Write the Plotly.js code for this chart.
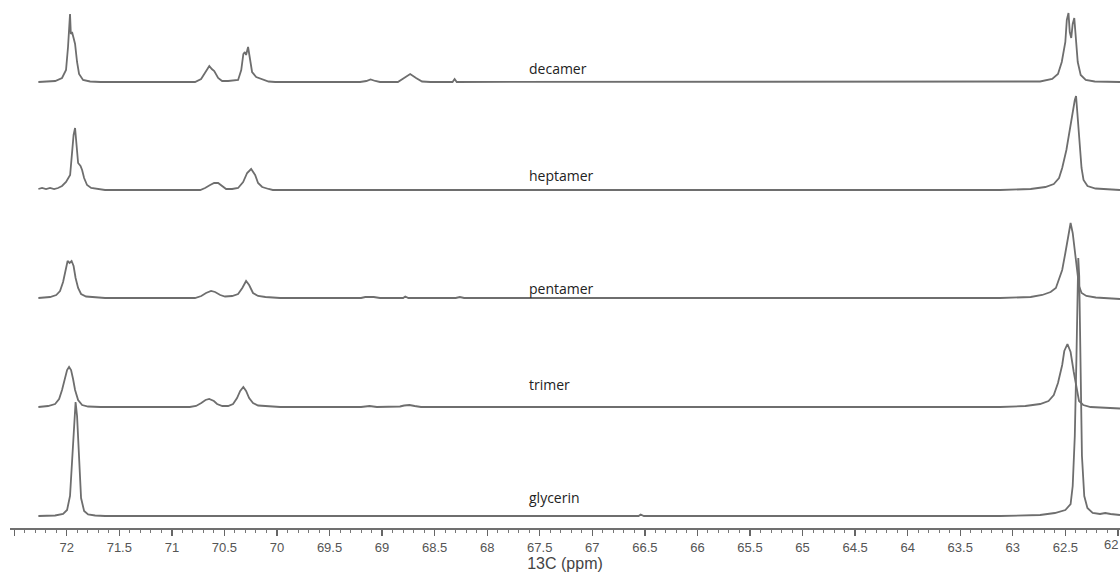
<!DOCTYPE html>
<html>
<head>
<meta charset="utf-8">
<script src="https://cdn.plot.ly/plotly-3.0.1.min.js"></script>
<style>
  html, body { margin: 0; padding: 0; background: #ffffff; }
  #chart { width: 1120px; height: 577px; }
</style>
</head>
<body>
<div id="chart"></div>
<script>
// ---------------- DATA ----------------
// Sample names, top to bottom
const sampleNames = ["decamer", "heptamer", "pentamer", "trimer", "glycerin"];

// Chemical shift (ppm) and intensity (arbitrary units) for each spectrum
const decamerPpm = [72.27, 72.11, 72.045, 72.007, 71.988, 71.973, 71.969, 71.961, 71.95, 71.935, 71.921, 71.902, 71.883, 71.845, 71.778, 71.68,
  70.78, 70.722, 70.68, 70.644, 70.62, 70.597, 70.56, 70.522, 70.465, 70.37, 70.34, 70.32, 70.306, 70.294, 70.275, 70.256, 70.237, 70.198, 70.141, 70.08, 70.017,
  69.21, 69.15, 69.11, 69.065, 69.02, 68.85, 68.79, 68.733, 68.677, 68.62, 68.54, 68.33, 68.31, 68.29,
  62.74, 62.625, 62.57, 62.534, 62.5, 62.486, 62.47, 62.458, 62.444, 62.43, 62.415, 62.40, 62.382, 62.354, 62.306, 62.22, 61.98];
const decamerInt = [0, 1, 4, 12, 35, 60, 68, 48, 50, 44, 38, 20, 8, 2, 0.5, 0,
  0, 3, 10, 16, 13, 11, 4, 1, 1, 2, 12, 28, 30, 27, 35, 22, 10, 5, 3, 0.5, 0,
  0, 1, 2.5, 1, 0, 0, 4, 8, 4, 0.5, 0, 0, 3, 0,
  0.5, 3, 8, 20, 40, 62, 69, 50, 44, 58, 64, 45, 20, 7, 2, 0.5, 0];

const heptamerPpm = [72.27, 72.235, 72.197, 72.159, 72.12, 72.083, 72.045, 72.007, 71.968, 71.949, 71.935, 71.921, 71.907, 71.892, 71.869, 71.854, 71.835, 71.807, 71.768, 71.683, 71.636,
  70.73, 70.684, 70.636, 70.598, 70.56, 70.522, 70.484, 70.427, 70.37, 70.322, 70.284, 70.246, 70.208, 70.18, 70.141, 70.08, 70.04,
  63.12, 62.83, 62.69, 62.61, 62.56, 62.53, 62.49, 62.46, 62.43, 62.41, 62.398, 62.384, 62.365, 62.346, 62.327, 62.289, 62.213, 62.07, 61.98];
const heptamerInt = [1, 2, 1, 2, 1, 2, 4, 8, 15, 35, 55, 62, 40, 27, 24, 20, 12, 5, 2, 0.5, 0,
  0, 2, 5, 7, 7, 4, 1, 1, 2, 8, 17, 21, 15, 7, 3, 1, 0,
  0, 1, 3, 6, 12, 22, 40, 60, 80, 90, 94, 75, 45, 22, 10, 4, 1.5, 0.5, 0];

const pentamerPpm = [72.27, 72.159, 72.1, 72.064, 72.035, 72.011, 71.992, 71.973, 71.954, 71.935, 71.916, 71.892, 71.864, 71.816, 71.73, 71.636,
  70.78, 70.72, 70.675, 70.627, 70.589, 70.54, 70.494, 70.427, 70.37, 70.33, 70.294, 70.265, 70.228, 70.18, 70.11, 69.97,
  69.2, 69.16, 69.08, 69.02, 68.8, 68.78, 68.75, 68.3, 68.26, 68.22,
  63.12, 62.83, 62.72, 62.64, 62.59, 62.56, 62.53, 62.5, 62.47, 62.45, 62.43, 62.41, 62.39, 62.37, 62.345, 62.3, 62.21, 61.98];
const pentamerInt = [0, 1, 3, 7, 16, 30, 37, 35, 37, 32, 20, 10, 4, 1.5, 0.5, 0,
  0, 2, 5, 7, 6, 3, 1.5, 2, 4, 10, 17, 13, 5, 2, 1, 0,
  0, 1, 1, 0, 0, 1.5, 0, 0, 1, 0,
  0, 1, 3, 6, 10, 18, 28, 45, 65, 75, 65, 45, 25, 12, 5, 2, 0.5, -1];

const trimerPpm = [72.27, 72.178, 72.111, 72.073, 72.045, 72.016, 71.997, 71.978, 71.959, 71.94, 71.921, 71.892, 71.854, 71.797, 71.68,
  70.83, 70.77, 70.72, 70.68, 70.645, 70.6, 70.57, 70.52, 70.465, 70.418, 70.38, 70.35, 70.32, 70.294, 70.265, 70.228, 70.18, 70.08, 69.97,
  69.2, 69.12, 69.05, 68.83, 68.79, 68.74, 68.69, 68.63,
  63.12, 62.88, 62.74, 62.66, 62.61, 62.57, 62.53, 62.51, 62.48, 62.45, 62.42, 62.39, 62.37, 62.33, 62.26, 61.98];
const trimerInt = [0, 1, 3, 8, 17, 30, 37, 40, 37, 28, 17, 7, 2, 0.5, 0,
  0, 1, 4, 7, 8, 6, 3, 1, 1, 3, 9, 16, 20, 16, 9, 4, 1.5, 0.5, 0,
  0, 1, 0, 0.5, 1.5, 2, 1, 0,
  0, 1, 3, 6, 12, 24, 42, 56, 63, 55, 35, 15, 6, 2, 0, -1.5];

const glycerinPpm = [72.27, 72.111, 72.035, 71.997, 71.969, 71.95, 71.93, 71.916, 71.902, 71.883, 71.864, 71.835, 71.797, 71.73, 71.636,
  66.56, 66.54, 66.51,
  63.12, 62.74, 62.6, 62.5, 62.45, 62.43, 62.41, 62.394, 62.385, 62.377, 62.368, 62.356, 62.342, 62.32, 62.29, 62.24, 62.17, 62.12, 62.07, 61.98];
const glycerinInt = [0, 0.5, 2, 6, 20, 55, 100, 114, 100, 50, 18, 5, 1.5, 0.5, 0,
  0, 1.5, 0,
  0, 1, 3, 6, 12, 30, 80, 160, 240, 258, 240, 150, 60, 20, 8, 3, 2, 3, 2, 1];

// Axis ticks
const tickValues = [72.5, 72, 71.5, 71, 70.5, 70, 69.5, 69, 68.5, 68, 67.5, 67, 66.5, 66, 65.5, 65, 64.5, 64, 63.5, 63, 62.5, 62];
const tickLabels = ["", "72", "71.5", "71", "70.5", "70", "69.5", "69", "68.5", "68", "67.5", "67", "66.5", "66", "65.5", "65", "64.5", "64", "63.5", "63", "62.5", "62"];
const edgeTickLabel = "62";     // the last tick label, kept inside the right edge
const xAxisTitle = "13C (ppm)";

// ---------------- LAYOUT / STYLE ----------------
const spectra = [
  [decamerPpm, decamerInt],
  [heptamerPpm, heptamerInt],
  [pentamerPpm, pentamerInt],
  [trimerPpm, trimerInt],
  [glycerinPpm, glycerinInt]
];
// vertical stacking offset of each spectrum's baseline
const stackOffsets = [446, 338, 230, 121, 12];
// label height above each baseline
const labelLift = [14, 15, 10, 23, 19];
const labelPpm = 67.62;
const tickFont = { family: "Liberation Sans, Arial, sans-serif", size: 13, color: "#555555" };

const traces = spectra.map(function (s, i) {
  return {
    type: "scatter",
    mode: "lines",
    name: sampleNames[i],
    x: s[0],
    y: s[1].map(function (v) { return v + stackOffsets[i]; }),
    line: { color: "#6e6e6e", width: 1.8 },
    hoverinfo: "skip",
    showlegend: false
  };
});

const annotations = sampleNames.map(function (name, i) {
  return {
    text: name,
    x: labelPpm,
    y: stackOffsets[i] + labelLift[i],
    xref: "x",
    yref: "y",
    xanchor: "left",
    yanchor: "middle",
    showarrow: false,
    font: { family: "Open Sans, Noto Sans, sans-serif", size: 14, color: "#222222" }
  };
});
annotations.push({
  text: edgeTickLabel,
  x: 1,
  xref: "paper",
  y: -0.0125,
  yref: "paper",
  xanchor: "right",
  yanchor: "top",
  showarrow: false,
  font: tickFont
});

const layout = {
  width: 1120,
  height: 577,
  margin: { l: 10, r: 0, t: 0, b: 49, pad: 0 },
  paper_bgcolor: "#ffffff",
  plot_bgcolor: "#ffffff",
  showlegend: false,
  xaxis: {
    range: [72.54, 61.98],
    tickmode: "array",
    tickvals: tickValues,
    ticktext: tickLabels,
    ticks: "outside",
    ticklen: 6,
    tickwidth: 1.3,
    tickcolor: "#666666",
    showline: true,
    linecolor: "#707070",
    linewidth: 2,
    showgrid: false,
    zeroline: false,
    tickfont: tickFont,
    minor: { tickmode: "linear", tick0: 62, dtick: 0.1, ticks: "outside", ticklen: 3, tickwidth: 1, tickcolor: "#777777", showgrid: false },
    title: { text: xAxisTitle, standoff: 4, font: { family: "Liberation Sans, Arial, sans-serif", size: 16, color: "#444444" } },
    automargin: false,
    fixedrange: true
  },
  yaxis: {
    range: [0, 528],
    visible: false,
    showgrid: false,
    zeroline: false,
    fixedrange: true
  },
  annotations: annotations
};

Plotly.newPlot("chart", traces, layout, { staticPlot: true, displayModeBar: false });
</script>
</body>
</html>
